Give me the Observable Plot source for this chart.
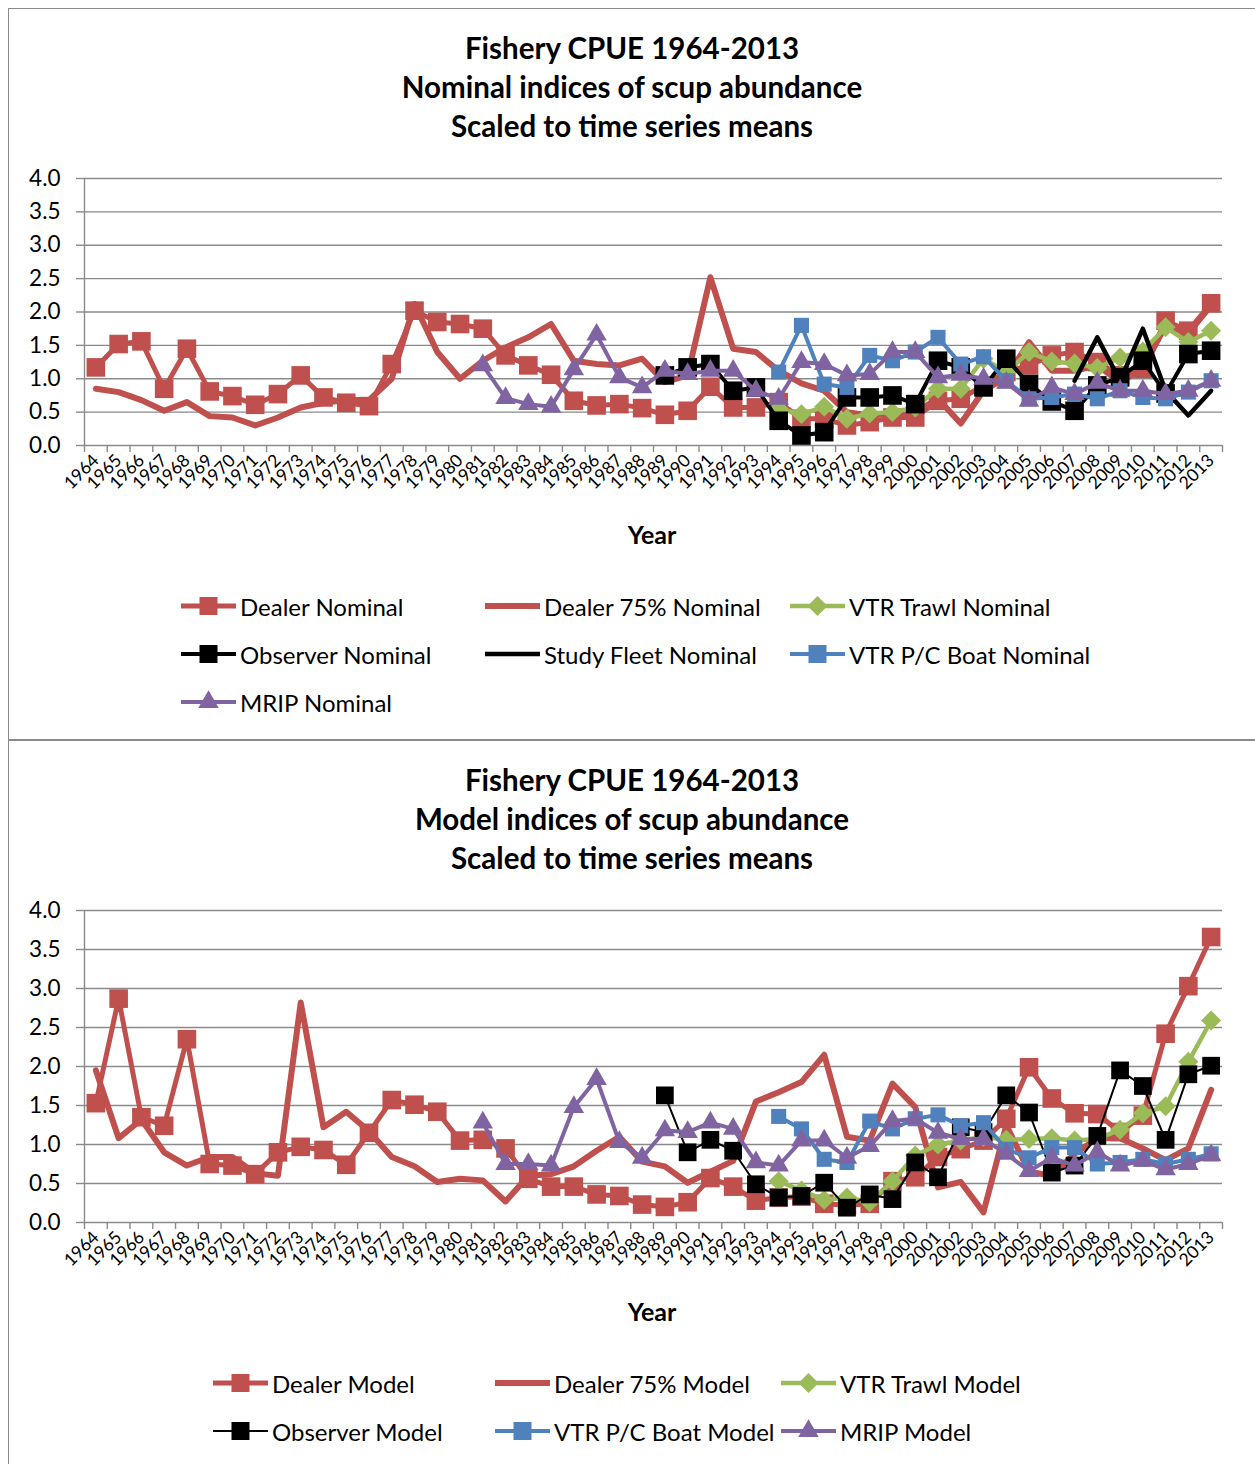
<!DOCTYPE html>
<html>
<head>
<meta charset="utf-8">
<script src="https://cdn.jsdelivr.net/npm/d3@7"></script>
<script src="https://cdn.jsdelivr.net/npm/@observablehq/plot@0.6"></script>
<style>
  body { margin: 0; background: #fff; overflow: hidden; }
  #page { position: relative; width: 1255px; height: 1464px; overflow: hidden; font-family: Lato, "Open Sans", sans-serif; color: #000; }
  .frame { position: absolute; border: 1.5px solid #8a8a8a; box-sizing: border-box; }
  .title { position: absolute; left: 0; width: 1264px; text-align: center; font-weight: bold; font-size: 29.5px; line-height: 39px; }
  .axis-title { position: absolute; width: 200px; text-align: center; font-weight: bold; font-size: 25px; line-height: 30px; }
  .legend-item { position: absolute; display: flex; align-items: center; font-size: 24px; white-space: nowrap; height: 30px; }
  .legend-item svg { margin-right: 3px; }
  .chart { position: absolute; left: 0; }
</style>
</head>
<body>
<div id="page"></div>
<script>
// Categories
const years = [1964, 1965, 1966, 1967, 1968, 1969, 1970, 1971, 1972, 1973,
               1974, 1975, 1976, 1977, 1978, 1979, 1980, 1981, 1982, 1983,
               1984, 1985, 1986, 1987, 1988, 1989, 1990, 1991, 1992, 1993,
               1994, 1995, 1996, 1997, 1998, 1999, 2000, 2001, 2002, 2003,
               2004, 2005, 2006, 2007, 2008, 2009, 2010, 2011, 2012, 2013];
const yTicks = [0, 0.5, 1, 1.5, 2, 2.5, 3, 3.5, 4];

// Nominal indices (scaled to time series means)
const dealerNominal = [1.17, 1.52, 1.56, 0.85, 1.45, 0.81, 0.74, 0.61, 0.77, 1.05,
                       0.72, 0.64, 0.59, 1.22, 2.02, 1.85, 1.82, 1.75, 1.35, 1.20,
                       1.06, 0.67, 0.60, 0.62, 0.56, 0.46, 0.52, 0.88, 0.57, 0.57,
                       0.65, 0.40, 0.40, 0.30, 0.35, 0.42, 0.42, 0.67, 0.70, 0.90,
                       1.10, 1.20, 1.35, 1.40, 1.25, 1.05, 1.15, 1.87, 1.72, 2.13];
const dealer75Nominal = [0.85, 0.80, 0.68, 0.52, 0.65, 0.44, 0.42, 0.30, 0.42, 0.57,
                         0.64, 0.68, 0.68, 1.00, 2.12, 1.40, 1.00, 1.27, 1.47, 1.62,
                         1.82, 1.27, 1.22, 1.20, 1.30, 0.95, 1.05, 2.52, 1.45, 1.40,
                         1.12, 0.93, 0.82, 0.50, 0.45, 0.48, 0.50, 0.70, 0.33, 0.82,
                         1.02, 1.55, 1.12, 1.12, 1.20, 0.95, 1.15, 1.80, 1.68, 2.10];
const vtrTrawlNominal = [null, null, null, null, null, null, null, null, null, null,
                         null, null, null, null, null, null, null, null, null, null,
                         null, null, null, null, null, null, null, null, null, null,
                         0.55, 0.47, 0.58, 0.40, 0.48, 0.50, 0.57, 0.85, 0.85, 1.30,
                         1.10, 1.40, 1.26, 1.23, 1.16, 1.32, 1.41, 1.77, 1.55, 1.72];
const observerNominal = [null, null, null, null, null, null, null, null, null, null,
                         null, null, null, null, null, null, null, null, null, null,
                         null, null, null, null, null, 1.05, 1.17, 1.22, 0.82, 0.87,
                         0.37, 0.15, 0.20, 0.72, 0.72, 0.75, 0.62, 1.27, 1.17, 0.87,
                         1.30, 0.92, 0.66, 0.52, 0.90, 1.02, 1.27, 0.78, 1.37, 1.42];
const studyFleetNominal = [null, null, null, null, null, null, null, null, null, null,
                           null, null, null, null, null, null, null, null, null, null,
                           null, null, null, null, null, null, null, null, null, null,
                           null, null, null, null, null, null, null, null, null, null,
                           null, null, null, 0.97, 1.62, 0.97, 1.75, 0.82, 0.45, 0.82];
const vtrPCNominal = [null, null, null, null, null, null, null, null, null, null,
                      null, null, null, null, null, null, null, null, null, null,
                      null, null, null, null, null, null, null, null, null, null,
                      1.10, 1.80, 0.92, 0.87, 1.35, 1.27, 1.40, 1.62, 1.22, 1.33,
                      0.97, 0.70, 0.72, 0.77, 0.70, 0.82, 0.72, 0.70, 0.80, 0.97];
const mripNominal = [null, null, null, null, null, null, null, null, null, null,
                     null, null, null, null, null, null, null, 1.20, 0.71, 0.62,
                     0.58, 1.14, 1.66, 1.02, 0.87, 1.12, 1.07, 1.12, 1.12, 0.82,
                     0.70, 1.25, 1.22, 1.05, 1.07, 1.40, 1.40, 1.02, 1.06, 1.00,
                     0.94, 0.67, 0.87, 0.77, 0.94, 0.82, 0.82, 0.77, 0.82, 0.97];

// Model indices (scaled to time series means)
const dealerModel = [1.53, 2.87, 1.35, 1.24, 2.35, 0.75, 0.73, 0.62, 0.90, 0.97,
                     0.93, 0.74, 1.15, 1.57, 1.51, 1.42, 1.05, 1.06, 0.95, 0.56,
                     0.46, 0.46, 0.36, 0.34, 0.23, 0.20, 0.26, 0.57, 0.46, 0.28,
                     0.32, 0.33, 0.24, 0.22, 0.24, 0.53, 0.58, 0.84, 0.94, 1.05,
                     1.33, 1.99, 1.59, 1.40, 1.39, 1.16, 1.37, 2.42, 3.03, 3.66];
const dealer75Model = [1.95, 1.08, 1.32, 0.90, 0.73, 0.84, 0.84, 0.63, 0.60, 2.82,
                       1.22, 1.42, 1.17, 0.84, 0.72, 0.52, 0.56, 0.54, 0.27, 0.60,
                       0.62, 0.72, 0.92, 1.10, 0.78, 0.72, 0.51, 0.65, 0.79, 1.55,
                       1.67, 1.80, 2.15, 1.10, 1.05, 1.78, 1.48, 0.45, 0.52, 0.13,
                       1.25, 0.65, 0.60, 0.88, 1.08, 1.08, 0.95, 0.80, 0.95, 1.70];
const vtrTrawlModel = [null, null, null, null, null, null, null, null, null, null,
                       null, null, null, null, null, null, null, null, null, null,
                       null, null, null, null, null, null, null, null, null, null,
                       0.53, 0.41, 0.29, 0.32, 0.26, 0.53, 0.86, 1.00, 1.05, 1.10,
                       1.06, 1.07, 1.08, 1.05, 1.07, 1.19, 1.40, 1.49, 2.06, 2.59];
const observerModel = [null, null, null, null, null, null, null, null, null, null,
                       null, null, null, null, null, null, null, null, null, null,
                       null, null, null, null, null, 1.63, 0.90, 1.06, 0.92, 0.49,
                       0.32, 0.34, 0.51, 0.19, 0.36, 0.30, 0.77, 0.58, 1.22, 1.16,
                       1.63, 1.41, 0.64, 0.73, 1.11, 1.95, 1.75, 1.06, 1.90, 2.01];
const vtrPCModel = [null, null, null, null, null, null, null, null, null, null,
                    null, null, null, null, null, null, null, null, null, null,
                    null, null, null, null, null, null, null, null, null, null,
                    1.36, 1.20, 0.81, 0.77, 1.30, 1.20, 1.33, 1.38, 1.24, 1.28,
                    0.94, 0.83, 0.96, 0.96, 0.75, 0.77, 0.81, 0.75, 0.81, 0.88];
const mripModel = [null, null, null, null, null, null, null, null, null, null,
                   null, null, null, null, null, null, null, 1.28, 0.75, 0.75,
                   0.73, 1.48, 1.84, 1.03, 0.83, 1.18, 1.16, 1.28, 1.20, 0.77,
                   0.73, 1.05, 1.05, 0.83, 0.98, 1.30, 1.33, 1.15, 1.07, 1.07,
                   0.88, 0.66, 0.83, 0.73, 0.90, 0.73, 0.79, 0.68, 0.75, 0.86];

// Styling
const RED = "#C0504D", GREEN = "#9BBB59", BLUE = "#4F81BD", PURPLE = "#8064A2", BLACK = "#000000";
const GRID = "#8a8a8a";
const FONT = "Lato, 'Open Sans', sans-serif";

const nominalSeries = [
  {name: "Dealer Nominal", values: dealerNominal, color: RED, width: 5, symbol: "square", r: 10.5},
  {name: "Dealer 75% Nominal", values: dealer75Nominal, color: RED, width: 6},
  {name: "VTR Trawl Nominal", values: vtrTrawlNominal, color: GREEN, width: 4.5, symbol: "diamond2", r: 9},
  {name: "Observer Nominal", values: observerNominal, color: BLACK, width: 4, symbol: "square", r: 10.5},
  {name: "Study Fleet Nominal", values: studyFleetNominal, color: BLACK, width: 4.5},
  {name: "VTR P/C Boat Nominal", values: vtrPCNominal, color: BLUE, width: 4, symbol: "square", r: 8.5},
  {name: "MRIP Nominal", values: mripNominal, color: PURPLE, width: 4, symbol: "triangle", r: 7.6}
];
const modelSeries = [
  {name: "Dealer Model", values: dealerModel, color: RED, width: 5, symbol: "square", r: 10.5},
  {name: "Dealer 75% Model", values: dealer75Model, color: RED, width: 6},
  {name: "VTR Trawl Model", values: vtrTrawlModel, color: GREEN, width: 4.5, symbol: "diamond2", r: 9},
  {name: "Observer Model", values: observerModel, color: BLACK, width: 2, symbol: "square", r: 10},
  {name: "VTR P/C Boat Model", values: vtrPCModel, color: BLUE, width: 4, symbol: "square", r: 8.5},
  {name: "MRIP Model", values: mripModel, color: PURPLE, width: 4, symbol: "triangle", r: 7.6}
];

const page = document.getElementById("page");

function el(tag, cls, style, text) {
  const e = document.createElement(tag);
  if (cls) e.className = cls;
  Object.assign(e.style, style);
  if (text != null) e.textContent = text;
  page.appendChild(e);
  return e;
}

// category edges for the tick marks under the x axis
const edges = years.map(y => y - 0.5).concat([years[years.length - 1] + 0.5]);

function drawChart(series, top, plotHeight) {
  const marks = [
    Plot.gridY(yTicks, {stroke: GRID, strokeOpacity: 1, strokeWidth: 1.4}),
    Plot.ruleX([edges[0]], {stroke: GRID, strokeWidth: 1.4}),
    Plot.axisY(yTicks, {tickSize: 8, tickPadding: 16, stroke: GRID, strokeWidth: 1.4, fontSize: 22.5,
                        tickFormat: d3.format(".1f"), label: null}),
    Plot.axisX(edges, {tickSize: 7, stroke: GRID, strokeWidth: 1.4, tickFormat: () => "", label: null}),
    Plot.axisX(years, {tickSize: 0, tickPadding: 12, tickRotate: -45, fontSize: 17.5,
                       tickFormat: d => String(d), label: null})
  ];
  for (const s of series) {
    const rows = years.map((year, i) => ({year, value: s.values[i]})).filter(d => d.value != null);
    marks.push(Plot.line(rows, {x: "year", y: "value", stroke: s.color, strokeWidth: s.width,
                                strokeLinejoin: "round", strokeLinecap: "round"}));
    if (s.symbol) {
      marks.push(Plot.dot(rows, {x: "year", y: "value", symbol: s.symbol, r: s.r, fill: s.color, stroke: null}));
    }
  }
  const svg = Plot.plot({
    width: 1255,
    height: 18 + plotHeight + 115,
    marginLeft: 84, marginRight: 33, marginTop: 18, marginBottom: 115,
    x: {type: "linear", domain: [edges[0], edges[edges.length - 1]], label: null},
    y: {domain: [0, 4], label: null},
    style: {fontFamily: FONT, color: "#000", background: "transparent", overflow: "visible"},
    marks
  });
  svg.classList.add("chart");
  svg.style.top = top + "px";
  page.appendChild(svg);
}

function legendSwatch(s) {
  const ns = "http://www.w3.org/2000/svg";
  const svg = document.createElementNS(ns, "svg");
  svg.setAttribute("width", 57);
  svg.setAttribute("height", 26);
  const line = document.createElementNS(ns, "line");
  line.setAttribute("x1", 1); line.setAttribute("x2", 56);
  line.setAttribute("y1", 13); line.setAttribute("y2", 13);
  line.setAttribute("stroke", s.color);
  line.setAttribute("stroke-width", s.width);
  svg.appendChild(line);
  if (s.symbol) {
    const symbols = {square: d3.symbolSquare, diamond2: d3.symbolDiamond2, triangle: d3.symbolTriangle};
    const path = document.createElementNS(ns, "path");
    const size = s.symbol === "square" ? 18 * 18 : s.r * s.r * Math.PI;
    path.setAttribute("d", d3.symbol(symbols[s.symbol], size)());
    path.setAttribute("transform", "translate(28.5,13)");
    path.setAttribute("fill", s.color);
    svg.appendChild(path);
  }
  return svg;
}

function drawLegend(series, positions) {
  series.forEach((s, i) => {
    const [x, y] = positions[i];
    const item = el("div", "legend-item", {left: x + "px", top: (y - 15) + "px"});
    item.appendChild(legendSwatch(s));
    const t = document.createElement("span");
    t.textContent = s.name;
    item.appendChild(t);
  });
}

// frames
el("div", "frame", {left: "8px", top: "8px", width: "1300px", height: "733px"});
el("div", "frame", {left: "8px", top: "739px", width: "1300px", height: "800px"});

// top chart
["Fishery CPUE 1964-2013", "Nominal indices of scup abundance", "Scaled to time series means"]
  .forEach((t, i) => el("div", "title", {top: (28 + 39 * i) + "px"}, t));
drawChart(nominalSeries, 160, 267);
el("div", "axis-title", {left: "552px", top: "519px"}, "Year");
drawLegend(nominalSeries, [[180, 606], [484, 606], [789, 606], [180, 654], [484, 654], [789, 654], [180, 702]]);

// bottom chart
["Fishery CPUE 1964-2013", "Model indices of scup abundance", "Scaled to time series means"]
  .forEach((t, i) => el("div", "title", {top: (760 + 39 * i) + "px"}, t));
drawChart(modelSeries, 892, 312);
el("div", "axis-title", {left: "552px", top: "1296px"}, "Year");
drawLegend(modelSeries, [[212, 1383], [494, 1383], [780, 1383], [212, 1431], [494, 1431], [780, 1431]]);
</script>
</body>
</html>
